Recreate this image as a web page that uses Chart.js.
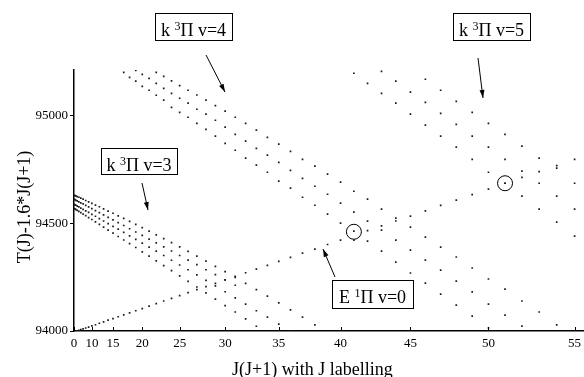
<!DOCTYPE html>
<html>
<head>
<meta charset="utf-8">
<script src="https://cdn.jsdelivr.net/npm/chart.js@4.4.1/dist/chart.umd.min.js"></script>
<style>
    html, body { margin: 0; padding: 0; background: #fff; overflow: hidden; }
    #wrap { width: 600px; height: 377px; }
</style>
</head>
<body>
<div id="wrap"><canvas id="chart" width="600" height="377"></canvas></div>
<script>
// Axis ticks: x labels are J values, placed at J(J+1)
const tickJ = [0, 10, 15, 20, 25, 30, 35, 40, 45, 50, 55];
const tickY = [94000, 94500, 95000];

// E 1Pi v=0, J = 4..55
const eStartJ = 4;
const eValues = [94000, 94003, 94006, 94010, 94014, 94018, 94024, 94029, 94036, 94042,
    94050, 94057, 94066, 94075, 94084, 94094, 94104, 94115, 94127, 94139,
    94151, 94164, 94178, 94192, 94206, 94221, 94237, 94253, 94270, 94287,
    94304, 94323, 94341, 94361, 94380, 94401, 94421, 94463, 94465, 94487,
    94510, 94533, 94557, 94582, 94607, 94632, 94658, 94685, 94712, 94739,
    94767, 94796];

// k 3Pi v=3, four components starting at J = 1
const v3aValues = [94629, 94628, 94626, 94623, 94620, 94616, 94611, 94605, 94599, 94592,
    94584, 94576, 94566, 94556, 94546, 94534, 94522, 94508, 94494, 94479,
    94463, 94446, 94428, 94410, 94390, 94369, 94347, 94324, 94300, 94275,
    94248, 94221, 94192, 94162, 94130, 94098, 94064, 94028];
const v3bValues = [94610, 94609, 94606, 94603, 94599, 94594, 94589, 94582, 94575, 94567,
    94558, 94549, 94538, 94527, 94515, 94502, 94489, 94474, 94459, 94443,
    94426, 94409, 94390, 94371, 94350, 94329, 94308, 94284, 94261, 94237,
    94212];
const v3cValues = [94587, 94585, 94583, 94579, 94575, 94570, 94564, 94557, 94550, 94541,
    94532, 94521, 94510, 94498, 94485, 94472, 94457, 94441, 94425, 94407,
    94389, 94370, 94350, 94328, 94306, 94284, 94260, 94235, 94209, 94182,
    94154, 94125, 94094, 94064, 94032, 94000];
const v3dValues = [94568, 94566, 94563, 94559, 94555, 94549, 94542, 94535, 94526, 94517,
    94506, 94494, 94482, 94468, 94454, 94438, 94422, 94405, 94387, 94367,
    94347, 94325, 94303, 94280, 94256, 94230, 94204, 94177, 94148, 94118,
    94088, 94056, 94022];

// k 3Pi v=4
const v4aStartJ = 22;
const v4aValues = [95199, 95180, 95160, 95138, 95116, 95094, 95070, 95045, 95019, 94991,
    94963, 94931, 94898, 94866, 94833, 94796, 94764, 94727, 94690, 94648,
    94611, 94565, 94523, 94482, 94435, 94389, 94343, 94292, 94241, 94194,
    94139, 94088, 94028];
const v4bStartJ = 19;
const v4bValues = [95208, 95190, 95171, 95148, 95125, 95102, 95079, 95056, 95028, 95005,
    94977, 94945, 94912, 94880, 94847, 94815, 94782, 94745, 94708, 94671,
    94634, 94593, 94551, 94509, 94468, 94421, 94375, 94329, 94282, 94231,
    94181, 94125, 94074, 94023];
const v4cStartJ = 17;
const v4cValues = [95199, 95176, 95158, 95134, 95116, 95093, 95070, 95037, 95014, 94991,
    94963, 94935, 94903, 94870, 94838, 94801, 94769, 94736, 94695, 94662,
    94620, 94583, 94542, 94500, 94421, 94417, 94370, 94319, 94269, 94222,
    94171, 94120, 94069, 94014];

// k 3Pi v=5
const v5aStartJ = 41;
const v5aValues = [95195, 95148, 95102, 95056, 95005, 94954, 94903, 94852, 94796, 94736,
    94685, 94625, 94565, 94505, 94440];
const v5bStartJ = 43;
const v5bValues = [95204, 95158, 95107, 95060, 95009, 94958, 94903, 94852, 94796, 94741,
    94685, 94625, 94565];
const v5cStartJ = 46;
const v5cValues = [95167, 95116, 95065, 95014, 94963, 94912, 94857, 94801, 94755, 94685];

// circled crossings
const circleJ = [41, 51];
const circleValues = [94460, 94685];

const serif = '"Liberation Serif", "Times New Roman", serif';

function toPoints(startJ, values) {
    return values.map((v, i) => {
        const j = startJ + i;
        return { x: j * (j + 1), y: v };
    });
}

const dotSeries = [
    [eStartJ, eValues],
    [1, v3aValues], [1, v3bValues], [1, v3cValues], [1, v3dValues],
    [v4aStartJ, v4aValues], [v4bStartJ, v4bValues], [v4cStartJ, v4cValues],
    [v5aStartJ, v5aValues], [v5bStartJ, v5bValues], [v5cStartJ, v5cValues]
];

const datasets = dotSeries.map(([startJ, values]) => ({
    data: toPoints(startJ, values),
    pointStyle: 'rect',
    pointRadius: 1.2,
    backgroundColor: '#1a1a1a',
    borderWidth: 0
}));

datasets.push({
    data: circleJ.map((j, i) => ({ x: j * (j + 1), y: circleValues[i] })),
    pointStyle: 'circle',
    pointRadius: 7.5,
    backgroundColor: 'rgba(0,0,0,0)',
    borderColor: '#000',
    borderWidth: 1
});

// Boxed labels and arrows (pixel layout)
const labels = [
    { pre: 'k', sup: '3', post: 'Π v=4', box: [155, 13, 77, 27] },
    { pre: 'k', sup: '3', post: 'Π v=5', box: [453, 13, 77, 27] },
    { pre: 'k', sup: '3', post: 'Π v=3', box: [101, 148, 76, 26] },
    { pre: 'E', sup: '1', post: 'Π v=0', box: [332, 280, 81, 28] }
];
const arrows = [
    [206, 55, 225, 92],
    [478, 58, 483, 98],
    [142, 183, 148, 210],
    [335, 277, 323, 249]
];

function drawArrow(ctx, x1, y1, x2, y2) {
    const ang = Math.atan2(y2 - y1, x2 - x1);
    ctx.beginPath();
    ctx.moveTo(x1, y1);
    ctx.lineTo(x2, y2);
    ctx.stroke();
    ctx.beginPath();
    ctx.moveTo(x2, y2);
    ctx.lineTo(x2 - 8 * Math.cos(ang) + 2.5 * Math.sin(ang), y2 - 8 * Math.sin(ang) - 2.5 * Math.cos(ang));
    ctx.lineTo(x2 - 8 * Math.cos(ang) - 2.5 * Math.sin(ang), y2 - 8 * Math.sin(ang) + 2.5 * Math.cos(ang));
    ctx.closePath();
    ctx.fill();
}

function drawLabel(ctx, lbl) {
    const [bx, by, bw, bh] = lbl.box;
    ctx.fillStyle = '#fff';
    ctx.fillRect(bx, by, bw, bh);
    ctx.strokeStyle = '#000';
    ctx.lineWidth = 1;
    ctx.strokeRect(bx + 0.5, by + 0.5, bw, bh);

    ctx.font = '18px ' + serif;
    const w1 = ctx.measureText(lbl.pre + ' ').width;
    const w3 = ctx.measureText(lbl.post).width;
    ctx.font = '12px ' + serif;
    const w2 = ctx.measureText(lbl.sup).width;
    let tx = bx + (bw - (w1 + w2 + w3)) / 2;
    const base = by + 23;

    ctx.fillStyle = '#000';
    ctx.textAlign = 'left';
    ctx.textBaseline = 'alphabetic';
    ctx.font = '18px ' + serif;
    ctx.fillText(lbl.pre + ' ', tx, base);
    tx += w1;
    ctx.font = '12px ' + serif;
    ctx.fillText(lbl.sup, tx, base - 6);
    tx += w2;
    ctx.font = '18px ' + serif;
    ctx.fillText(lbl.post, tx, base);
}

const decorPlugin = {
    id: 'decor',
    afterDraw(chart) {
        const ctx = chart.ctx;
        const xs = chart.scales.x;
        const area = chart.chartArea;
        ctx.save();

        // inward tick marks on the x axis
        ctx.strokeStyle = '#000';
        ctx.lineWidth = 1;
        xs.ticks.forEach((t) => {
            const px = Math.round(xs.getPixelForValue(t.value)) + 0.5;
            ctx.beginPath();
            ctx.moveTo(px, area.bottom);
            ctx.lineTo(px, area.bottom - 4);
            ctx.stroke();
        });

        // axis titles
        ctx.fillStyle = '#000';
        ctx.font = '18px ' + serif;
        ctx.textAlign = 'left';
        ctx.textBaseline = 'alphabetic';
        ctx.fillText('J(J+1) with J labelling', 232, 375);

        ctx.save();
        ctx.translate(30, 207);
        ctx.rotate(-Math.PI / 2);
        ctx.textAlign = 'center';
        ctx.fillText('T(J)-1.6*J(J+1)', 0, 0);
        ctx.restore();

        // arrows then boxes
        ctx.strokeStyle = '#000';
        ctx.fillStyle = '#000';
        ctx.lineWidth = 1;
        arrows.forEach((a) => drawArrow(ctx, a[0], a[1], a[2], a[3]));
        labels.forEach((l) => drawLabel(ctx, l));

        ctx.restore();
    }
};

new Chart(document.getElementById('chart'), {
    type: 'scatter',
    data: { datasets: datasets },
    options: {
        responsive: false,
        animation: false,
        events: [],
        layout: { padding: { top: 70, right: 4, left: 0, bottom: 0 } },
        plugins: {
            legend: { display: false },
            tooltip: { enabled: false }
        },
        scales: {
            x: {
                type: 'linear',
                min: 0,
                max: 3184,
                afterBuildTicks: (scale) => {
                    scale.ticks = tickJ.map((j) => ({ value: j * (j + 1) }));
                },
                afterFit: (scale) => { scale.height = 46; },
                ticks: {
                    autoSkip: false,
                    maxRotation: 0,
                    padding: 5,
                    color: '#000',
                    font: { family: serif, size: 13 },
                    callback: (value, index) => String(tickJ[index])
                },
                grid: { display: false, drawTicks: false },
                border: { display: true, color: '#000', width: 1.5 }
            },
            y: {
                min: 94000,
                max: 95210,
                afterBuildTicks: (scale) => {
                    scale.ticks = tickY.map((v) => ({ value: v }));
                },
                afterFit: (scale) => { scale.width = 74; },
                ticks: {
                    padding: 2,
                    color: '#000',
                    font: { family: serif, size: 13 },
                    callback: (value) => String(value)
                },
                grid: {
                    display: true,
                    drawOnChartArea: false,
                    drawTicks: true,
                    tickLength: 4,
                    color: '#000',
                    lineWidth: 1
                },
                border: { display: true, color: '#000', width: 1.5 }
            }
        }
    },
    plugins: [decorPlugin]
});
</script>
</body>
</html>
